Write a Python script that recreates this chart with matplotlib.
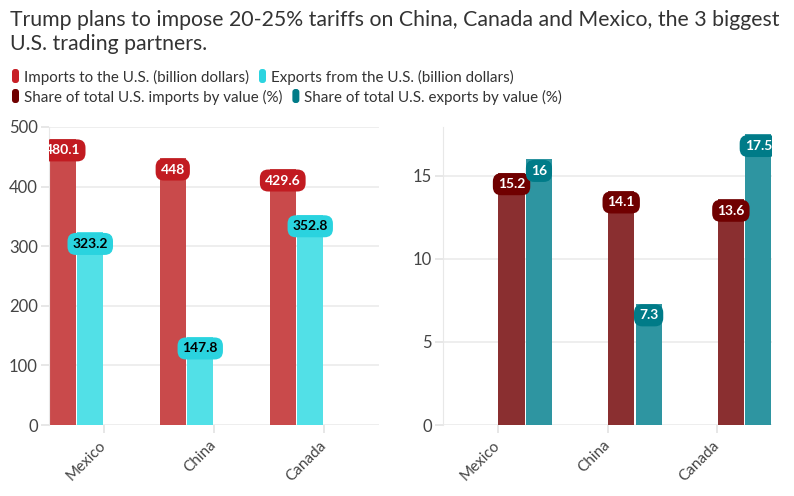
import numpy as np
import matplotlib
matplotlib.use('Agg')
import matplotlib.pyplot as plt
from matplotlib.patches import FancyBboxPatch
from matplotlib.transforms import IdentityTransform

countries = ['Mexico', 'China', 'Canada']
imports_bn = [480.1, 448, 429.6]
exports_bn = [323.2, 147.8, 352.8]
imports_share = [15.2, 14.1, 13.6]
exports_share = [16, 7.3, 17.5]

title_lines = ['Trump plans to impose 20-25% tariffs on China, Canada and Mexico, the 3 biggest',
               'U.S. trading partners.']
legend_rows = [
    [('Imports to the U.S. (billion dollars)', '#c81f26'),
     ('Exports from the U.S. (billion dollars)', '#2cd4e0')],
    [('Share of total U.S. imports by value (%)', '#700000'),
     ('Share of total U.S. exports by value (%)', '#007b88')],
]

plt.rcParams['font.family'] = ['Lato', 'DejaVu Sans']

W, H = 794, 496
fig = plt.figure(figsize=(W / 100, H / 100), dpi=100)
ax1 = fig.add_axes([49 / W, 1 - 425 / H, 330 / W, 298 / H])
ax2 = fig.add_axes([443 / W, 1 - 425 / H, 329 / W, 298 / H])

x = np.arange(len(countries))
slot = 0.25
bw = 0.238


def style(ax, ylim, yticks):
    ax.set_xlim(-0.5, 2.5)
    ax.set_ylim(*ylim)
    ax.set_yticks(yticks)
    ax.set_xticks(x)
    ax.set_xticklabels(countries, rotation=45, ha='right', va='center',
                       rotation_mode='anchor')
    for s in ['top', 'right', 'bottom']:
        ax.spines[s].set_visible(False)
    ax.spines['left'].set_color('#e8e8e8')
    ax.grid(axis='y', color='#ebebeb', lw=1.2)
    ax.set_axisbelow(True)
    ax.tick_params(axis='both', color='#e3e3e3', length=6, width=1.2, labelcolor='#444444')
    ax.tick_params(axis='y', labelsize=12, pad=2)
    ax.tick_params(axis='x', labelsize=11, pad=7)


def badges(ax, xs, vals, fc, tc):
    for xi, v in zip(xs, vals):
        ax.annotate(f'{v:g}', (xi, v), xytext=(0, -4), textcoords='offset points',
                    ha='center', va='top', fontsize=10, fontweight='bold', color=tc,
                    annotation_clip=False, clip_on=True,
                    bbox=dict(boxstyle='round,pad=0.36,rounding_size=0.6', fc=fc, ec='none'))


# left: values in billions, first two of four slots
ax1.bar(x - 1.5 * slot, imports_bn, bw, color='#c94a4b', zorder=2)
ax1.bar(x - 0.5 * slot, exports_bn, bw, color='#52e0e7', zorder=2)
style(ax1, (0, 500), [0, 100, 200, 300, 400, 500])
badges(ax1, x - 1.5 * slot, imports_bn, '#c21b21', 'white')
badges(ax1, x - 0.5 * slot, exports_bn, '#2ad3df', 'black')

# right: shares, last two slots
ax2.bar(x + 0.5 * slot, imports_share, bw, color='#8a2f30', zorder=2)
ax2.bar(x + 1.5 * slot, exports_share, bw, color='#2e95a1', zorder=2)
style(ax2, (0, 17.95), [0, 5, 10, 15])
badges(ax2, x + 0.5 * slot, imports_share, '#700000', 'white')
badges(ax2, x + 1.5 * slot, exports_share, '#007b88', 'white')

# title
fig.text(10 / W, 1 - 26 / H, title_lines[0], fontsize=15.3, color='#333333', va='baseline')
fig.text(10 / W, 1 - 50 / H, title_lines[1], fontsize=15.3, color='#333333', va='baseline')

# legend, laid out like flowing html items
renderer = fig.canvas.get_renderer()
for row, yc in zip(legend_rows, [76, 96]):
    xp = 12
    for label, col in row:
        m = FancyBboxPatch((xp, H - yc - 7), 7, 14, boxstyle='round,pad=0,rounding_size=3',
                           fc=col, ec='none', transform=IdentityTransform())
        fig.patches.append(m)
        t = fig.text((xp + 12) / W, 1 - yc / H, label, fontsize=10.9, color='#333333',
                     va='center_baseline')
        ext = t.get_window_extent(renderer)
        xp = ext.x1 + 10

fig.savefig('out.png', dpi=100)
